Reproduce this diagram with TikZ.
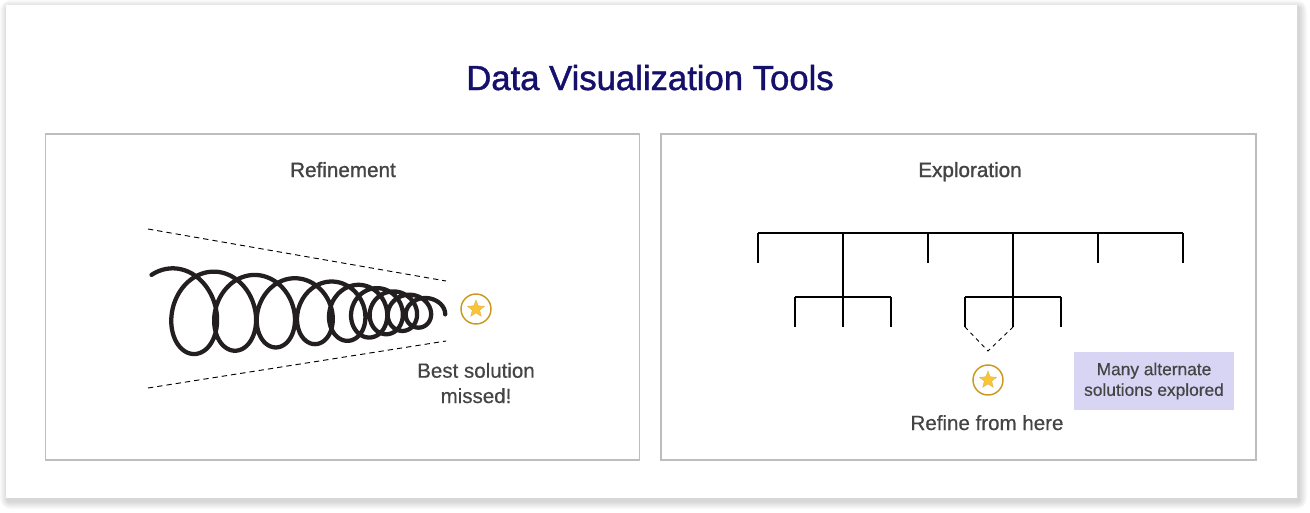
\documentclass[tikz,border=0pt]{standalone}
\usepackage{fontspec}
\setmainfont{Liberation Sans}
\newfontfamily\medfont[FakeBold=1.2]{Liberation Sans}
\newfontfamily\lblfont[FakeBold=0.5]{Liberation Sans}
\usetikzlibrary{shapes.geometric}
\definecolor{titleblue}{HTML}{15106B}
\definecolor{txt}{HTML}{444444}
\definecolor{panelborder}{HTML}{BDBDBD}
\definecolor{gold}{HTML}{C99A1E}
\definecolor{starfill}{HTML}{F9C536}
\definecolor{lav}{HTML}{D7D5F3}
\definecolor{coil}{HTML}{231F20}
\begin{document}
\begin{tikzpicture}[x=0.75pt,y=-0.75pt,
  panel/.style={draw=panelborder, line width=1pt, fill=white},
  ptitle/.style={font=\medfont\fontsize{15.5}{18}\selectfont, text=txt, anchor=base},
  lbl/.style={font=\lblfont\fontsize{15.4}{19}\selectfont, text=txt, align=center},
  tree/.style={line width=1pt, black},
  guide/.style={dash pattern=on 4pt off 3pt, line width=0.7pt, black},
  ring/.style={circle, draw=gold, line width=1.1pt, minimum size=22.5pt, fill=white, inner sep=0pt},
  starshape/.style={star, star points=5, star point ratio=2.3, fill=starfill, draw=gold!70, line width=0.3pt, minimum size=13.5pt, inner sep=0pt},
  coilstyle/.style={line width=3.2pt, coil, line cap=round, line join=round},
  declare function={sp(\z)=max(\z,0)+ln(1+exp(-abs(\z)));},
]
\useasboundingbox (0,0) rectangle (1310,512);
\fill[white] (0,0) rectangle (1310,512);
% card shadow
\foreach \s in {1,...,8}{
  \fill[black, opacity=0.018, rounded corners=\s] (6-\s+2,5-\s+3) rectangle (1297+\s+2,498+\s+3);
}
\fill[white] (6,5) rectangle (1297,498);

% title
\node[font=\medfont\fontsize{26}{30}\selectfont, text=titleblue, anchor=base] (title) at (650,90) {Data Visualization Tools};

% panels
\node[panel, minimum width=445.5pt, minimum height=244.5pt, inner sep=0pt] (left) at (342.5,297) {};
\node[panel, minimum width=446.25pt, minimum height=244.5pt, inner sep=0pt] (right) at (958.5,297) {};
\node[ptitle] (lt) at (343,177) {Refinement};
\node[ptitle] (rt) at (970,177) {Exploration};

% ---------- refinement ----------
\coordinate (g1a) at (148,229);
\coordinate (g1b) at (446,281);
\coordinate (g2a) at (148,388);
\coordinate (g2b) at (446,341);
\draw[guide] (g1a) -- (g1b);
\draw[guide] (g2a) -- (g2b);

\draw[coilstyle] plot[domain=0.16:9.53, samples=900, variable=\u]
  ({163+41*\u-12.5*sp(2*\u-9.2)-(34-2*\u)*cos(360*\u)}, {312-(44.5-3.3*\u)*sin(360*\u)});

\node[ring] (r1) at (476,309) {};
\node[starshape] (s1) at (r1) {};
\node[lbl] (best) at (476,383) {Best solution\\missed!};

% ---------- exploration ----------
\coordinate (t0) at (758,233);
\coordinate (t5) at (1183,233);
\coordinate (a1) at (758,263);
\coordinate (a1t) at (758,233);
\coordinate (a2t) at (843,233);
\coordinate (a2) at (843,297);
\coordinate (a3t) at (928,233);
\coordinate (a3) at (928,263);
\coordinate (a4t) at (1013,233);
\coordinate (a4) at (1013,297);
\coordinate (a5t) at (1098,233);
\coordinate (a5) at (1098,263);
\coordinate (a6t) at (1183,233);
\coordinate (a6) at (1183,263);
\draw[tree] (t0) -- (t5);
\draw[tree] (a1t) -- (a1);
\draw[tree] (a2t) -- (a2);
\draw[tree] (a3t) -- (a3);
\draw[tree] (a4t) -- (a4);
\draw[tree] (a5t) -- (a5);
\draw[tree] (a6t) -- (a6);
% second level left
\coordinate (l0) at (795,297);
\coordinate (l2) at (891,297);
\coordinate (l0b) at (795,327);
\coordinate (l1b) at (843,327);
\coordinate (l2b) at (891,327);
\draw[tree] (l0) -- (l2);
\draw[tree] (l0) -- (l0b);
\draw[tree] (a2) -- (l1b);
\draw[tree] (l2) -- (l2b);
% second level right
\coordinate (m0) at (965,297);
\coordinate (m2) at (1061,297);
\coordinate (m0b) at (965,327);
\coordinate (m1b) at (1013,327);
\coordinate (m2b) at (1061,327);
\draw[tree] (m0) -- (m2);
\draw[tree] (m0) -- (m0b);
\draw[tree] (a4) -- (m1b);
\draw[tree] (m2) -- (m2b);
\coordinate (meet) at (988,351);
\draw[guide, dash pattern=on 3pt off 3pt] (m0b) -- (meet) -- (m1b);

\node[ring] (r2) at (988,380) {};
\node[starshape] (s2) at (r2) {};
\node[lbl, anchor=base] (refine) at (987,430) {Refine from here};

\node[fill=lav, minimum width=120pt, minimum height=43.5pt, inner sep=0pt, align=center,
      font=\lblfont\fontsize{13}{15.5}\selectfont, text=txt] (many) at (1154,381) {Many alternate\\solutions explored};
\end{tikzpicture}
\end{document}
